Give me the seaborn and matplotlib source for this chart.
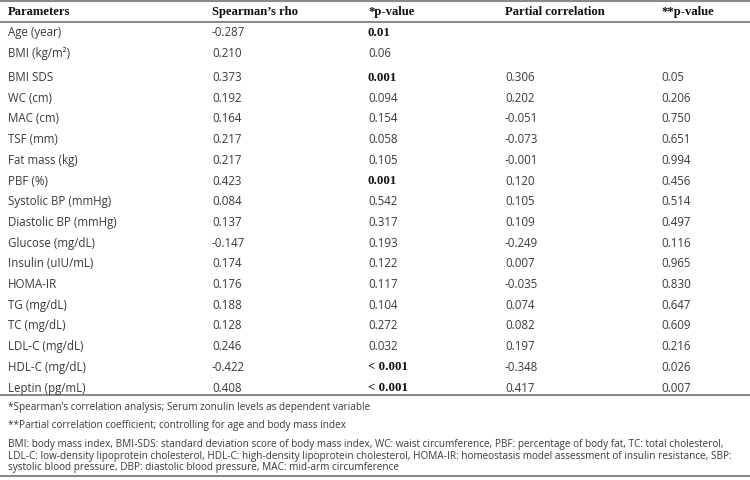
import matplotlib
matplotlib.use("Agg")
import matplotlib.pyplot as plt
import seaborn as sns

# table content
headers = ["Parameters", "Spearman\u2019s rho", "*p-value", "Partial correlation", "**p-value"]
parameters = ["Age (year)", "BMI (kg/m\u00b2)", "BMI SDS", "WC (cm)", "MAC (cm)", "TSF (mm)",
              "Fat mass (kg)", "PBF (%)", "Systolic BP (mmHg)", "Diastolic BP (mmHg)",
              "Glucose (mg/dL)", "Insulin (uIU/mL)", "HOMA-IR", "TG (mg/dL)", "TC (mg/dL)",
              "LDL-C (mg/dL)", "HDL-C (mg/dL)", "Leptin (pg/mL)"]
spearman_rho = ["-0.287", "0.210", "0.373", "0.192", "0.164", "0.217", "0.217", "0.423", "0.084",
                "0.137", "-0.147", "0.174", "0.176", "0.188", "0.128", "0.246", "-0.422", "0.408"]
p_value = ["0.01", "0.06", "0.001", "0.094", "0.154", "0.058", "0.105", "0.001", "0.542",
           "0.317", "0.193", "0.122", "0.117", "0.104", "0.272", "0.032", "< 0.001", "< 0.001"]
p_bold = [True, False, True, False, False, False, False, True, False,
          False, False, False, False, False, False, False, True, True]
partial_corr = ["", "", "0.306", "0.202", "-0.051", "-0.073", "-0.001", "0.120", "0.105",
                "0.109", "-0.249", "0.007", "-0.035", "0.074", "0.082", "0.197", "-0.348", "0.417"]
partial_p = ["", "", "0.05", "0.206", "0.750", "0.651", "0.994", "0.456", "0.514",
             "0.497", "0.116", "0.965", "0.830", "0.647", "0.609", "0.216", "0.026", "0.007"]
footnotes = [
    "*Spearman\u2019s correlation analysis; Serum zonulin levels as dependent variable",
    "**Partial correlation coefficient; controlling for age and body mass index",
    "BMI: body mass index, BMI-SDS: standard deviation score of body mass index, WC: waist circumference, "
    "PBF: percentage of body fat, TC: total cholesterol,",
    "LDL-C: low-density lipoprotein cholesterol, HDL-C: high-density lipoprotein cholesterol, "
    "HOMA-IR: homeostasis model assessment of insulin resistance, SBP:",
    "systolic blood pressure, DBP: diastolic blood pressure, MAC: mid-arm circumference",
]

sns.set_theme(style="white")
body_font = ["Open Sans", "DejaVu Sans"]
head_font = ["Liberation Serif", "DejaVu Serif"]
plt.rcParams["font.family"] = body_font

fig = plt.figure(figsize=(7.5, 4.81), dpi=100)
ax = fig.add_axes([0, 0, 1, 1])
ax.set_xlim(0, 750)
ax.set_ylim(21.64, -1.594)
ax.axis("off")

col_x = [8, 212, 368, 505, 661]
text_col = "#3a3a3a"
line_col = "#8a8a8a"

# row positions (small extra gap after BMI row)
row_y = [i + (0.15 if i >= 2 else 0) for i in range(len(parameters))]

for x, h in zip(col_x, headers):
    ax.text(x, -1.0, h, family=head_font, fontweight="bold", fontsize=9.1,
            color="#111111", va="center", ha="left")

columns = [parameters, spearman_rho, p_value, partial_corr, partial_p]
for c, values in enumerate(columns):
    for i, v in enumerate(values):
        if c == 2 and p_bold[i]:
            ax.text(col_x[c], row_y[i], v, family=head_font, fontweight="bold",
                    fontsize=9.3, color="#111111", va="center", ha="left")
        else:
            ax.text(col_x[c], row_y[i], v, fontsize=8.3, color=text_col,
                    va="center", ha="left")

for y in [-1.52, -0.48, 17.54, 21.47]:
    ax.axhline(y, color=line_col, lw=1.5)

foot_y = [18.07, 18.94, 19.90, 20.48, 21.01]
for y, note in zip(foot_y, footnotes):
    ax.text(8, y, note, fontsize=7.2, color=text_col, va="center", ha="left")

fig.savefig("out.png", dpi=100)
